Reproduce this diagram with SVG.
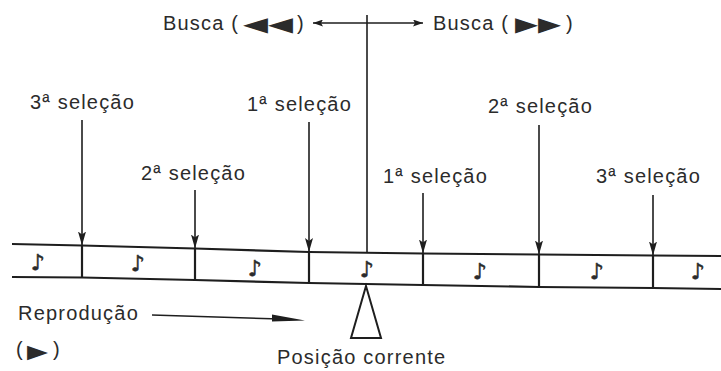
<svg xmlns="http://www.w3.org/2000/svg" width="721" height="371" viewBox="0 0 721 371">
  <defs>
    <style>
      .lbl { font-family: "Liberation Sans", Arial, Helvetica, sans-serif; font-size: 20px; letter-spacing: 1.2px; fill: #2b2b2b; }
      .sym { font-family: "DejaVu Sans", sans-serif; fill: #2b2b2b; }
      .note { font-family: "DejaVu Sans", "DejaVu Serif", sans-serif; font-size: 22px; fill: #2b2b2b; stroke: #2b2b2b; stroke-width: 0.6; text-anchor: middle; }
      .ln { stroke: #1e1e1e; stroke-width: 1.6; fill: none; }
      .tape { stroke: #1e1e1e; stroke-width: 2.2; fill: none; }
      .div { stroke: #1e1e1e; stroke-width: 2.2; }
    </style>
    <marker id="down" markerUnits="userSpaceOnUse" markerWidth="14" markerHeight="8" viewBox="0 0 14 8" refX="14" refY="4" orient="auto-start-reverse">
      <path d="M0,0 L14,4 L0,8 L3,4 Z" fill="#1e1e1e"/>
    </marker>
    <marker id="ah" markerUnits="userSpaceOnUse" markerWidth="10" markerHeight="7" viewBox="0 0 10 7" refX="10" refY="3.5" orient="auto-start-reverse">
      <path d="M0,0 L10,3.5 L0,7 L2,3.5 Z" fill="#1e1e1e"/>
    </marker>
  </defs>
  <rect width="721" height="371" fill="#ffffff"/>

  <g id="tape">
    <polyline class="tape" points="12,244 82,245.5 195,248.5 309,252 423,253.5 539,254.5 653,255.5 721,256"/>
    <polyline class="tape" points="12,277 82,277.5 195,280 309,283 423,285 539,287 653,288 721,289"/>
    <line class="div" x1="82" y1="245.5" x2="82" y2="277.5"/>
    <line class="div" x1="195" y1="248.5" x2="195" y2="280"/>
    <line class="div" x1="309" y1="252" x2="309" y2="283"/>
    <line class="div" x1="423" y1="253.5" x2="423" y2="285"/>
    <line class="div" x1="539" y1="254.5" x2="539" y2="287"/>
    <line class="div" x1="653" y1="255.5" x2="653" y2="288"/>
    <text class="note" x="38" y="270">♪&#xFE0E;</text>
    <text class="note" x="138" y="271">♪&#xFE0E;</text>
    <text class="note" x="255" y="276">♪&#xFE0E;</text>
    <text class="note" x="367" y="277">♪&#xFE0E;</text>
    <text class="note" x="480" y="279">♪&#xFE0E;</text>
    <text class="note" x="597" y="279">♪&#xFE0E;</text>
    <text class="note" x="698" y="279">♪&#xFE0E;</text>
  </g>

  <g id="connectors">
    <line class="ln" x1="82" y1="120" x2="82" y2="245.5" marker-end="url(#down)"/>
    <line class="ln" x1="195" y1="190" x2="195" y2="248.5" marker-end="url(#down)"/>
    <line class="ln" x1="309" y1="122" x2="309" y2="252" marker-end="url(#down)"/>
    <line class="ln" x1="423" y1="193" x2="423" y2="253.5" marker-end="url(#down)"/>
    <line class="ln" x1="539" y1="125" x2="539" y2="254.5" marker-end="url(#down)"/>
    <line class="ln" x1="653" y1="195" x2="653" y2="255.5" marker-end="url(#down)"/>
    <line class="ln" x1="367" y1="15" x2="367" y2="253"/>
    <line class="ln" x1="313" y1="23" x2="423" y2="23" marker-start="url(#ah)" marker-end="url(#ah)"/>
    <line class="ln" x1="152" y1="315" x2="280" y2="319"/>
    <polygon points="272,314.5 305,320.5 272,321.5" fill="#1e1e1e"/>
  </g>

  <g id="busca-rew">
    <text class="lbl" x="163" y="30">Busca (</text>
    <text class="sym" x="243" y="31" font-size="20" textLength="50" lengthAdjust="spacingAndGlyphs">◀◀</text>
    <text class="lbl" x="297" y="30">)</text>
  </g>
  <g id="busca-ff">
    <text class="lbl" x="433" y="30">Busca (</text>
    <text class="sym" x="515" y="31" font-size="20" textLength="46" lengthAdjust="spacingAndGlyphs">▶▶</text>
    <text class="lbl" x="566" y="30">)</text>
  </g>

  <g id="sel3-left"><text class="lbl" x="30" y="109">3ª seleção</text></g>
  <g id="sel2-left"><text class="lbl" x="141" y="180">2ª seleção</text></g>
  <g id="sel1-left"><text class="lbl" x="247" y="111">1ª seleção</text></g>
  <g id="sel1-right"><text class="lbl" x="383" y="183">1ª seleção</text></g>
  <g id="sel2-right"><text class="lbl" x="488" y="113">2ª seleção</text></g>
  <g id="sel3-right"><text class="lbl" x="596" y="183">3ª seleção</text></g>

  <g id="reproducao">
    <text class="lbl" x="18" y="320">Reprodução</text>
    <text class="lbl" x="16" y="356">(</text>
    <text class="sym" x="27" y="358" font-size="19" textLength="21" lengthAdjust="spacingAndGlyphs">▶</text>
    <text class="lbl" x="53" y="356">)</text>
  </g>

  <g id="posicao">
    <polygon points="366,286 351,338 381,338" fill="#ffffff" stroke="#1e1e1e" stroke-width="2"/>
    <text class="lbl" x="277" y="364">Posição corrente</text>
  </g>
</svg>
